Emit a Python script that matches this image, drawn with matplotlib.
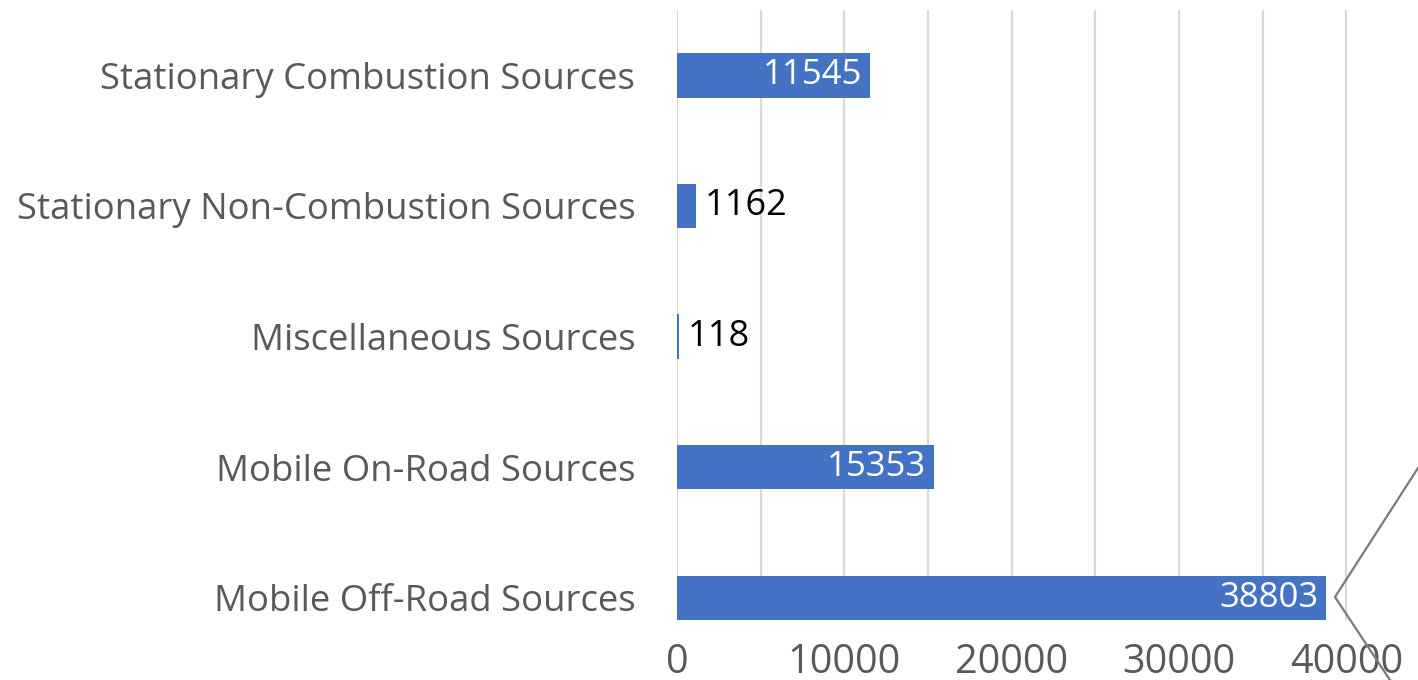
import matplotlib
matplotlib.use("Agg")
import matplotlib.pyplot as plt
from matplotlib.lines import Line2D

categories = ["Mobile Off-Road Sources", "Mobile On-Road Sources", "Miscellaneous Sources",
              "Stationary Non-Combustion Sources", "Stationary Combustion Sources"]
values = [38803, 15353, 118, 1162, 11545]
xticks = [0, 10000, 20000, 30000, 40000]
grid_x = [0, 5000, 10000, 15000, 20000, 25000, 30000, 35000, 40000]

FONT = "Open Sans"
plt.rcParams['font.family'] = [FONT, 'DejaVu Sans']

W, H = 1418, 680
fig = plt.figure(figsize=(W / 100, H / 100), dpi=100)
ax = fig.add_axes([677 / W, 60 / H, 1 - 677 / W, 610 / H])

bar_h = 0.34
ypos = list(range(len(categories)))
ax.barh(ypos, values, height=bar_h, color="#4472C4", zorder=3)

ax.set_xlim(0, 44290)
ax.set_ylim(-bar_h / 2, 4.5)
for gx in grid_x:
    ax.axvline(gx, color="#D9D9D9", lw=1.6, zorder=1)

ax.set_xticks(xticks)
ax.set_xticklabels([str(t) for t in xticks])
ax.set_yticks(ypos)
ax.set_yticklabels(categories)
ax.tick_params(axis="y", length=0, labelcolor="#595959", labelsize=26.3, pad=30)
ax.tick_params(axis="x", length=0, labelcolor="#595959", labelsize=28.5, pad=16)
for s in ax.spines.values():
    s.set_visible(False)

for y, v in zip(ypos, values):
    if v > 5000:
        ax.text(v - 450, y, str(v), ha="right", va="center", color="white",
                fontsize=25, zorder=4)
    else:
        ax.annotate(str(v), (v, y), xytext=(6, 0), textcoords="offset points",
                    ha="left", va="center", color="black", fontsize=26, zorder=4)

pts = [(1418, 468), (1335, 597), (1390, 680)]
fig.add_artist(Line2D([p[0] / W for p in pts], [1 - p[1] / H for p in pts],
                      color="#7A7A7A", lw=1.6, transform=fig.transFigure))

fig.savefig("out.png", dpi=100)
